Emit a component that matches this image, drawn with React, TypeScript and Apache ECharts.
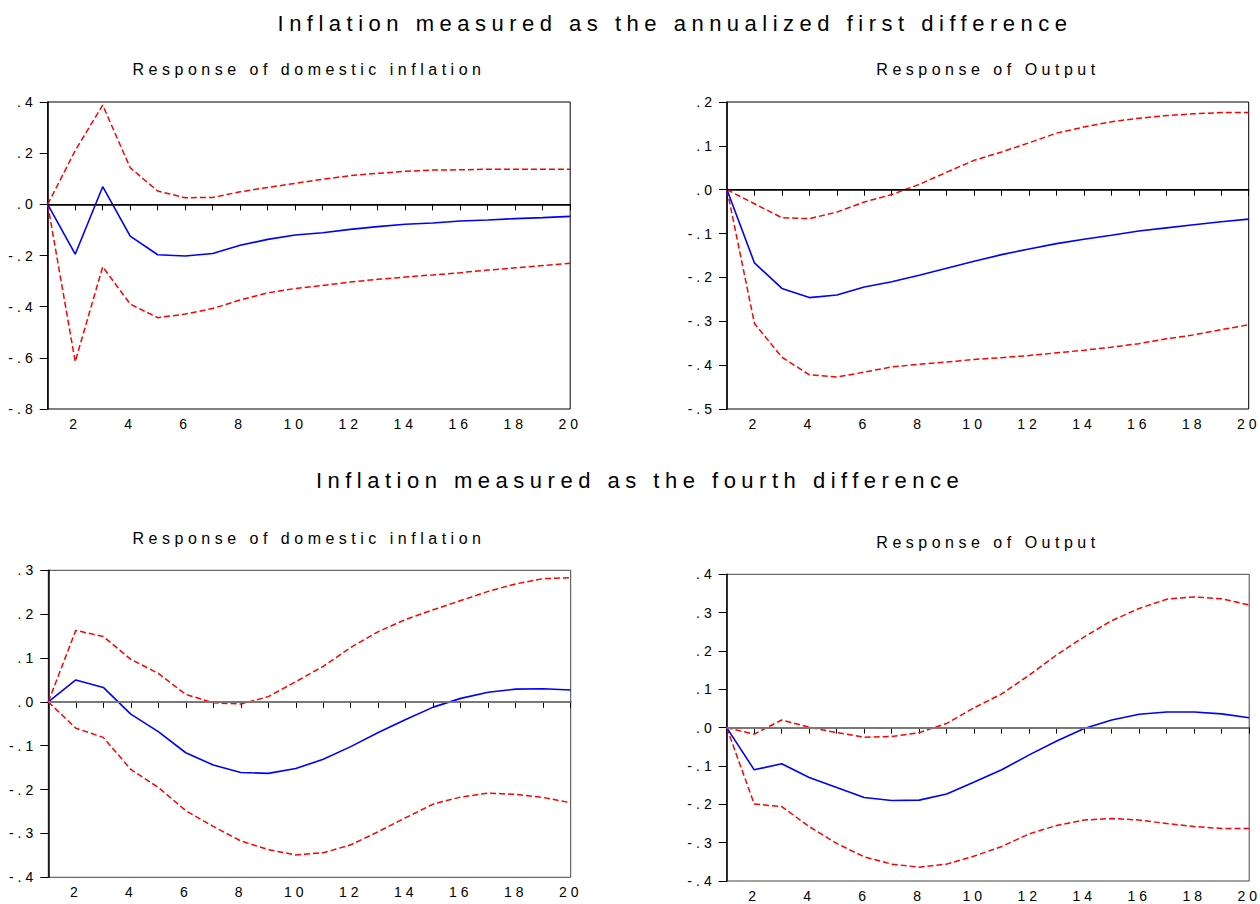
import React, { useEffect, useRef } from 'react';
import * as echarts from 'echarts';

// Forecast horizon (periods after the shock)
const horizons = [1, 2, 3, 4, 5, 6, 7, 8, 9, 10, 11, 12, 13, 14, 15, 16, 17, 18, 19, 20];

// Inflation as the annualized first difference: response of domestic inflation
const annDomResp = [0, -0.195, 0.069, -0.124, -0.197, -0.202, -0.192, -0.16, -0.137, -0.12, -0.111, -0.098, -0.087, -0.078, -0.073, -0.065, -0.061, -0.056, -0.052, -0.047];
const annDomUpper = [0, 0.21, 0.388, 0.143, 0.052, 0.026, 0.027, 0.049, 0.066, 0.082, 0.098, 0.112, 0.121, 0.129, 0.134, 0.135, 0.137, 0.137, 0.137, 0.137];
const annDomLower = [0, -0.615, -0.244, -0.39, -0.443, -0.429, -0.407, -0.374, -0.346, -0.329, -0.317, -0.304, -0.293, -0.284, -0.276, -0.267, -0.257, -0.248, -0.239, -0.23];

// Inflation as the annualized first difference: response of output
const annOutResp = [0, -0.167, -0.225, -0.246, -0.24, -0.222, -0.21, -0.195, -0.179, -0.163, -0.148, -0.135, -0.123, -0.113, -0.104, -0.094, -0.087, -0.08, -0.073, -0.067];
const annOutUpper = [0, -0.032, -0.064, -0.066, -0.051, -0.028, -0.011, 0.012, 0.04, 0.067, 0.086, 0.107, 0.129, 0.143, 0.155, 0.163, 0.169, 0.173, 0.176, 0.176];
const annOutLower = [0, -0.305, -0.382, -0.422, -0.427, -0.416, -0.404, -0.398, -0.393, -0.387, -0.383, -0.378, -0.372, -0.366, -0.359, -0.351, -0.34, -0.331, -0.319, -0.308];

// Inflation as the fourth difference: response of domestic inflation
const fourDomResp = [0, 0.05, 0.033, -0.028, -0.068, -0.116, -0.144, -0.161, -0.163, -0.152, -0.131, -0.102, -0.07, -0.04, -0.012, 0.008, 0.022, 0.029, 0.03, 0.027];
const fourDomUpper = [0, 0.163, 0.149, 0.097, 0.065, 0.017, -0.002, -0.005, 0.012, 0.046, 0.081, 0.124, 0.16, 0.188, 0.21, 0.231, 0.252, 0.269, 0.281, 0.283];
const fourDomLower = [0, -0.06, -0.081, -0.154, -0.195, -0.248, -0.284, -0.317, -0.337, -0.349, -0.344, -0.326, -0.296, -0.264, -0.233, -0.217, -0.208, -0.211, -0.218, -0.23];

// Inflation as the fourth difference: response of output
const fourOutResp = [0, -0.11, -0.094, -0.13, -0.156, -0.182, -0.19, -0.189, -0.173, -0.142, -0.11, -0.071, -0.035, -0.002, 0.02, 0.035, 0.041, 0.041, 0.036, 0.026];
const fourOutUpper = [0, -0.017, 0.02, 0.001, -0.013, -0.025, -0.023, -0.013, 0.011, 0.052, 0.088, 0.137, 0.19, 0.237, 0.279, 0.311, 0.335, 0.341, 0.336, 0.32];
const fourOutLower = [0, -0.199, -0.206, -0.258, -0.302, -0.337, -0.356, -0.364, -0.356, -0.335, -0.31, -0.277, -0.255, -0.241, -0.237, -0.241, -0.25, -0.258, -0.263, -0.263];

// Titles
const sectionTitles = [
  'Inflation measured as the annualized first difference',
  'Inflation measured as the fourth difference',
];
const panelTitles = ['Response of domestic inflation', 'Response of Output'];

// Y-axis ranges per panel: [min, max, interval]
const yRanges = [
  [-0.8, 0.4, 0.2],
  [-0.5, 0.2, 0.1],
  [-0.4, 0.3, 0.1],
  [-0.4, 0.4, 0.1],
];

const FONT = '"Liberation Sans", Arial, sans-serif';

const panels = [
  { resp: annDomResp, upper: annDomUpper, lower: annDomLower, zero: '#000000', zeroWidth: 1, frame: '#000000' },
  { resp: annOutResp, upper: annOutUpper, lower: annOutLower, zero: '#000000', zeroWidth: 1, frame: '#000000' },
  { resp: fourDomResp, upper: fourDomUpper, lower: fourDomLower, zero: '#8c8c8c', zeroWidth: 1.5, frame: '#444444' },
  { resp: fourOutResp, upper: fourOutUpper, lower: fourOutLower, zero: '#8c8c8c', zeroWidth: 1.5, frame: '#444444' },
];

const grids = [
  { left: 47.7, top: 102, width: 522.5, height: 307 },
  { left: 727, top: 102, width: 521.7, height: 307 },
  { left: 48.3, top: 570.3, width: 522.4, height: 307 },
  { left: 726.7, top: 574.3, width: 522.5, height: 306.7 },
];

function yFormat(v: number): string {
  const a = Math.abs(v) < 1e-9 ? 0 : v;
  const s = Math.abs(a).toFixed(1).slice(1);
  return (a < 0 ? '-' : '') + s;
}

function pairs(values: number[]) {
  return horizons.map((h, i) => [h, values[i]]);
}

function buildOption() {
  const series: any[] = [];
  panels.forEach((p, k) => {
    series.push({
      type: 'line',
      xAxisIndex: k,
      yAxisIndex: k,
      data: pairs(p.upper),
      symbol: 'none',
      lineStyle: { color: '#ff0000', width: 1.5, type: [6, 3] },
      markLine: {
        silent: true,
        symbol: 'none',
        label: { show: false },
        lineStyle: { color: p.zero, width: p.zeroWidth, type: 'solid', opacity: 1 },
        emphasis: { disabled: true },
        data: [{ yAxis: 0 }],
      },
      z: 2,
    });
    series.push({
      type: 'line',
      xAxisIndex: k,
      yAxisIndex: k,
      data: pairs(p.resp),
      symbol: 'none',
      lineStyle: { color: '#0000ff', width: 1.6, type: 'solid' },
      z: 3,
    });
    series.push({
      type: 'line',
      xAxisIndex: k,
      yAxisIndex: k,
      data: pairs(p.lower),
      symbol: 'none',
      lineStyle: { color: '#ff0000', width: 1.5, type: [6, 3] },
      z: 2,
    });
  });

  const xAxis = panels.map((p, k) => ({
    type: 'value',
    gridIndex: k,
    min: 1,
    max: 20,
    interval: 1,
    axisLine: { show: true, lineStyle: { color: '#000', width: 1.5 } },
    axisTick: { show: true, length: 6, lineStyle: { color: '#000', width: 1 } },
    axisLabel: {
      margin: 8,
      color: '#000',
      fontSize: 14,
      fontFamily: FONT,
      formatter: (v: number) => (v % 2 === 0 ? String(v) : ''),
    },
    splitLine: { show: false },
  }));

  const yAxis = panels.map((p, k) => ({
    type: 'value',
    gridIndex: k,
    min: yRanges[k][0],
    max: yRanges[k][1],
    interval: yRanges[k][2],
    axisLine: { show: true, lineStyle: { color: '#000', width: 1.5 } },
    axisTick: { show: true, length: 8, lineStyle: { color: '#000', width: 1 } },
    axisLabel: {
      margin: 11,
      color: '#000',
      fontSize: 14,
      fontFamily: FONT,
      formatter: yFormat,
    },
    splitLine: { show: false },
  }));

  const text = (x: number, y: number, t: string, size: number) => ({
    type: 'text',
    x,
    y,
    silent: true,
    style: {
      text: t,
      fill: '#000',
      font: `${size}px ${FONT}`,
      align: 'center',
      verticalAlign: 'middle',
    },
  });

  return {
    animation: false,
    backgroundColor: '#ffffff',
    grid: grids.map((g, k) => ({
      ...g,
      show: true,
      borderColor: panels[k].frame,
      borderWidth: 1,
      backgroundColor: 'transparent',
      containLabel: false,
    })),
    xAxis,
    yAxis,
    series,
    graphic: [
      text(675, 23, sectionTitles[0], 22),
      text(309, 69, panelTitles[0], 16),
      text(988, 69, panelTitles[1], 16),
      text(640, 480, sectionTitles[1], 22),
      text(309, 538, panelTitles[0], 16),
      text(988, 542, panelTitles[1], 16),
    ],
  };
}

export default function App() {
  const ref = useRef<HTMLDivElement>(null);

  useEffect(() => {
    if (!ref.current) return;
    const chart = echarts.init(ref.current, undefined, { renderer: 'svg' });
    chart.setOption(buildOption() as any);
    return () => chart.dispose();
  }, []);

  return (
    <>
      <style>{`
        #irf-chart text { letter-spacing: 4px; }
        #irf-chart text[style*="22px"] { letter-spacing: 5.5px; }
        #irf-chart text[style*="16px"] { letter-spacing: 4.5px; }
      `}</style>
      <div
        id="irf-chart"
        ref={ref}
        style={{ position: 'fixed', left: 0, top: 0, width: 1260, height: 904, background: '#fff' }}
      />
    </>
  );
}
